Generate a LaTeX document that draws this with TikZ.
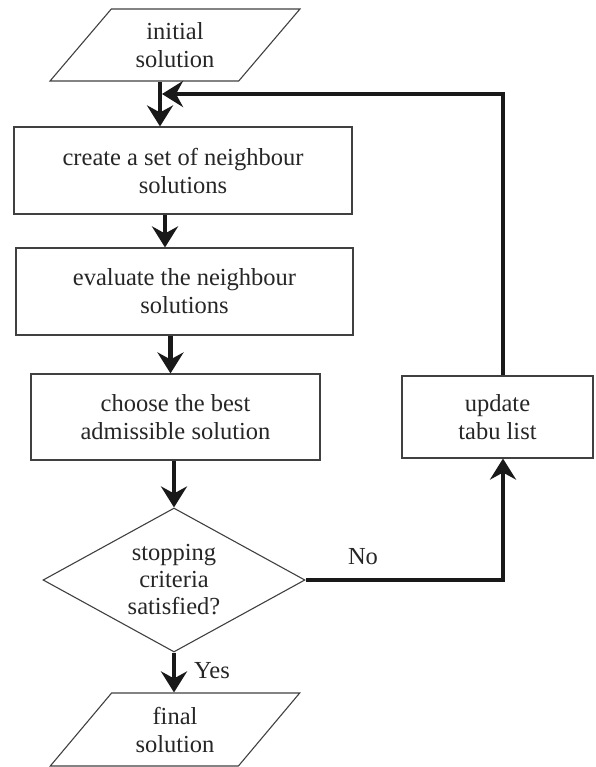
\documentclass[tikz,border=0pt]{standalone}
\usepackage{fontspec}
\setmainfont{Liberation Serif}
\usetikzlibrary{shapes.geometric, arrows.meta}

\begin{document}
\begin{tikzpicture}[x=1pt, y=-1pt,
    box/.style={draw=black!75, line width=1.1pt, rectangle, align=center, inner sep=0pt},
    io/.style={draw=black!75, line width=1.1pt, trapezium, trapezium left angle=50, trapezium right angle=130,
        trapezium stretches=true, minimum width=250pt, minimum height=72pt, align=center, inner sep=0pt},
    decision/.style={draw=black!75, line width=1.1pt, diamond, aspect=1.82, minimum width=262pt, minimum height=144pt,
        align=center, inner sep=0pt, font=\fontsize{24.5}{27}\selectfont},
    arr/.style={-{Stealth[length=21pt, width=26pt, inset=7pt]}, line width=4.5pt, black!90},
    font=\fontsize{24.5}{28}\selectfont, text=black!85]
    \useasboundingbox (0,0) rectangle (595,767);

    % start
    \node[io] (init) at (175,45) {initial\\solution};

    % main steps
    \node[box, minimum width=338pt, minimum height=87pt] (create) at (183,170.5) {create a set of neighbour\\solutions};
    \node[box, minimum width=337pt, minimum height=87pt] (evaluate) at (184.5,291.5) {evaluate the neighbour\\solutions};
    \node[box, minimum width=289pt, minimum height=86pt] (choose) at (175.5,417) {choose the best\\admissible solution};

    % test
    \node[decision] (stop) at (174,580) {stopping\\criteria\\satisfied?};

    % end
    \node[io, minimum height=73pt] (final) at (175,729.5) {final\\solution};

    % tabu list
    \node[box, minimum width=191pt, minimum height=82pt] (tabu) at (497.5,417) {update\\tabu list};

    % labels
    \node (no) at (363,557) {No};
    \node (yes) at (212,671) {Yes};

    % arrows
    \draw[arr] ([xshift=-15pt]init.south) -- ([xshift=-15pt]init.south |- create.north);
    \draw[arr] ([xshift=-18pt]create.south) -- ([xshift=-18pt]create.south |- evaluate.north);
    \draw[arr] ([xshift=-14pt]evaluate.south) -- ([xshift=-14pt]evaluate.south |- choose.north);
    \draw[arr] (choose.south -| stop.north) -- (stop.north);
    \draw[arr] (stop.south) -- (stop.south |- final.north);

    % loop back
    \coordinate (merge) at (162,94);
    \draw[arr] (stop.east) -| ([xshift=5.5pt]tabu.south);
    \draw[arr] ([xshift=5.5pt]tabu.north) |- (merge);
\end{tikzpicture}
\end{document}
